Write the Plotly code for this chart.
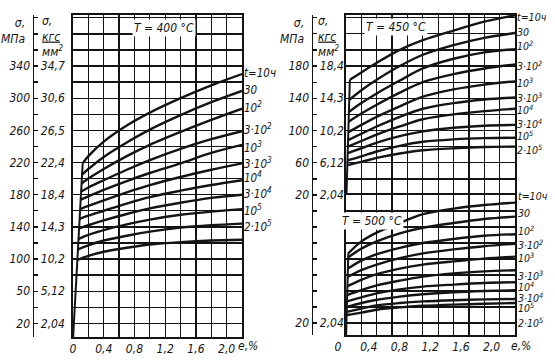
import plotly.graph_objects as go

# ---------------- data ----------------
E_GRID = [0.2, 0.4, 0.7, 1.0, 1.4, 1.8, 2.2]          # strain e, %
TIME_LABELS = ["t=10ч", "30", "10<sup>2</sup>", "3·10<sup>2</sup>", "10<sup>3</sup>",
               "3·10<sup>3</sup>", "10<sup>4</sup>", "3·10<sup>4</sup>", "10<sup>5</sup>", "2·10<sup>5</sup>"]

# T = 400 C  (left panel) : knee point on elastic line + stress at E_GRID
T400_KNEE_E = [0.126, 0.118, 0.112, 0.106, 0.100, 0.093, 0.086, 0.079, 0.072, 0.064, 0.057]
T400_KNEE_S = [219, 205, 194, 184, 174, 162, 150, 138, 125, 112, 99]
T400_S = [
    [228, 246, 266, 282, 300, 316, 330],
    [212, 227, 245, 261, 279, 295, 309],
    [200, 212, 228, 242, 258, 273, 287],
    [189, 198, 211, 223, 237, 249, 259],
    [178, 186, 197, 207, 219, 232, 242],
    [166, 173, 183, 192, 202, 211, 219],
    [154, 160, 169, 177, 185, 192, 198],
    [142, 148, 156, 163, 170, 176, 180],
    [130, 136, 143, 149, 155, 159, 162],
    [117, 123, 129, 134, 139, 142, 144],
    [104, 109, 114, 118, 121, 123, 124],
]
T400_ELASTIC_E = [0, 0.126]
T400_ELASTIC_S = [0, 219]
T400_LABEL_S = [331, 310, 288, 261, 239, 219, 202, 181, 160, 140]

# T = 450 C  (right panel, upper block)
T450_KNEE_E = [0.050, 0.042, 0.038, 0.034, 0.030, 0.027, 0.025, 0.022, 0.019, 0.017]
T450_KNEE_S = [163, 138, 123, 111, 98, 88, 80, 72, 63, 57]
T450_S = [
    [172, 184, 200, 212, 224, 235, 243],
    [150, 163, 180, 194, 206, 215, 221],
    [134, 146, 162, 177, 189, 197, 201],
    [121, 132, 147, 160, 170, 177, 182],
    [107, 117, 130, 142, 151, 157, 161],
    [96, 105, 117, 127, 134, 138.5, 141],
    [87, 95, 105, 114, 120, 124, 127],
    [78, 85, 93, 99, 103.5, 106, 107],
    [68, 74, 81, 86, 89, 90.5, 91],
    [61, 66, 71.5, 75.5, 78, 79.5, 80],
]
T450_ELASTIC_E = [0, 0.050]
T450_ELASTIC_S = [0, 163]
T450_LABEL_S = [241, 222, 206, 181, 160, 141, 126, 109, 94, 77]

# T = 500 C  (right panel, lower block)
T500_KNEE_E = [0.030, 0.029, 0.025, 0.022, 0.019, 0.016, 0.013, 0.011, 0.010, 0.008]
T500_KNEE_S = [107, 102, 88, 77.5, 66, 55, 47, 40, 34, 30]
T500_S = [
    [122, 133, 145, 156, 163, 167.5, 170.5],
    [113, 122, 132, 139, 145, 150, 153],
    [98, 106, 114, 120, 125, 129, 131],
    [86, 93, 101, 107, 112, 116, 119],
    [74, 81, 88, 93, 97, 100.5, 103],
    [61, 67, 73, 78, 82, 84.5, 86],
    [52, 57, 62, 65.5, 68, 70, 71],
    [45, 49, 53, 56, 58.5, 60, 61],
    [38, 42, 45, 47, 48.5, 49.5, 50],
    [33, 36.5, 39.5, 41.5, 43, 44, 45],
]
T500_ELASTIC_E = [0, 0.030]
T500_ELASTIC_S = [0, 107]
T500_LABEL_S = [179, 157, 136, 118, 102, 79, 66, 52.5, 39, 21]

X_TICKS = [0, 0.4, 0.8, 1.2, 1.6, 2.0]
X_TICKTEXT = ["0", "0,4", "0,8", "1,2", "1,6", "2,0"]
LEFT_MPA_POS = [20, 60, 100, 140, 180, 220, 260, 300, 340]
LEFT_MPA_TEXT = ["20", "50", "100", "140", "180", "220", "260", "300", "340"]
LEFT_KGF_TEXT = ["2,04", "5,12", "10,2", "14,3", "18,4", "22,4", "26,5", "30,6", "34,7"]
RU_MPA_POS = [20, 60, 100, 140, 180]
RU_MPA_TEXT = ["20", "60", "100", "140", "180"]
RU_KGF_TEXT = ["2,04", "6,12", "10,2", "14,3", "18,4"]
RL_MPA_POS = [20]
RL_MPA_TEXT = ["20"]
RL_KGF_TEXT = ["2,04"]

# ---------------- figure ----------------
W, H = 555, 364
INK = "#141414"
FAMILY = "Liberation Sans Narrow, DejaVu Sans Condensed, Roboto Condensed, Liberation Sans, sans-serif"
FONT = dict(family=FAMILY, size=12, color=INK, style="italic")
LFONT = dict(family=FAMILY, size=11.5, color=INK, style="italic")
RFONT = dict(family=FAMILY, size=10.5, color=INK, style="italic")

fig = go.Figure()

def add_panel(xa, ya, knee_e, knee_s, sig, el_e, el_s):
    fig.add_trace(go.Scatter(x=el_e, y=el_s, mode="lines", xaxis=xa, yaxis=ya,
                             line=dict(color=INK, width=2), showlegend=False, hoverinfo="skip"))
    for ke, ks, s in zip(knee_e, knee_s, sig):
        fig.add_trace(go.Scatter(x=[ke] + E_GRID, y=[ks] + s, mode="lines", xaxis=xa, yaxis=ya,
                                 line=dict(color=INK, width=2.4, shape="spline", smoothing=0.9),
                                 showlegend=False, hoverinfo="skip"))

add_panel("x", "y", T400_KNEE_E, T400_KNEE_S, T400_S, T400_ELASTIC_E, T400_ELASTIC_S)
add_panel("x3", "y3", T450_KNEE_E, T450_KNEE_S, T450_S, T450_ELASTIC_E, T450_ELASTIC_S)
add_panel("x2", "y2", T500_KNEE_E, T500_KNEE_S, T500_S, T500_ELASTIC_E, T500_ELASTIC_S)

# dummy traces so overlay label axes render
for xa, ya in [("x", "y4"), ("x", "y5"), ("x3", "y6"), ("x3", "y7"), ("x2", "y8"), ("x2", "y9")]:
    fig.add_trace(go.Scatter(x=[None], y=[None], xaxis=xa, yaxis=ya, showlegend=False, hoverinfo="skip"))

px_x = lambda p: p / W
px_y = lambda p: 1 - p / H

grid_x = [round(0.2 * i, 1) for i in range(12)]

def xax(domain, anchor, show_labels, shift=0, side="bottom", mirror=True):
    d = dict(domain=domain, anchor=anchor, range=[0, 2.2], showgrid=True, gridcolor=INK, gridwidth=1.3,
             zeroline=False, showline=True, mirror=mirror, side=side, linecolor=INK, linewidth=1.6, ticks="",
             tickvals=grid_x, fixedrange=True, automargin=False,
             ticktext=[(X_TICKTEXT[X_TICKS.index(v)] if (v in X_TICKS and show_labels) else " ") for v in grid_x],
             tickfont=FONT, showticklabels=show_labels)
    if shift:
        d["ticklabelshift"] = shift
    return d

def yax(domain, anchor, rng, grid_vals):
    return dict(domain=domain, anchor=anchor, range=rng, showgrid=True, gridcolor=INK, gridwidth=1.3,
                zeroline=False, showline=True, mirror=True, linecolor=INK, linewidth=1.6, ticks="",
                tickvals=grid_vals, showticklabels=False, fixedrange=True, automargin=False)

def kgf_ax(over, rng, pos, tick_vals, label_pos, label_text):
    txt = [label_text[label_pos.index(v)] if v in label_pos else " " for v in tick_vals]
    return dict(overlaying=over, anchor="free", position=pos, side="right", range=rng, showgrid=False,
                zeroline=False, showline=True, linecolor=INK, linewidth=1.4, ticks="outside", ticklen=4,
                tickwidth=1.3, tickcolor=INK, tickvals=tick_vals, ticktext=txt, tickfont=FONT,
                fixedrange=True, automargin=False)

def mpa_ax(over, rng, pos, label_pos, label_text):
    return dict(overlaying=over, anchor="free", position=pos, side="left", range=rng, showgrid=False,
                zeroline=False, showline=False, ticks="", tickvals=label_pos, ticktext=label_text,
                tickfont=FONT, fixedrange=True, automargin=False)

L_RANGE = [3, 403.5]
RU_RANGE = [20, 243.3]
RL_RANGE = [5, 180]

fig.update_layout(
    width=W, height=H, margin=dict(l=0, r=0, t=0, b=0, autoexpand=False),
    paper_bgcolor="white", plot_bgcolor="white", showlegend=False,
    xaxis=xax([px_x(73), px_x(242)], "y", True),
    yaxis=yax([px_y(337), px_y(15)], "x", L_RANGE, list(range(20, 401, 20))),
    xaxis2=xax([px_x(346), px_x(515)], "y2", True, -8, "bottom", True),
    yaxis2=yax([px_y(335), px_y(195)], "x2", RL_RANGE, list(range(20, 181, 20))),
    xaxis3=xax([px_x(346), px_x(515)], "y3", False, 0, "top", False),
    yaxis3=yax([px_y(195), px_y(15)], "x3", RU_RANGE, list(range(20, 241, 20))),
    yaxis4=kgf_ax("y", L_RANGE, px_x(33), list(range(20, 401, 20)), LEFT_MPA_POS, LEFT_KGF_TEXT),
    yaxis5=mpa_ax("y", L_RANGE, px_x(30), LEFT_MPA_POS, LEFT_MPA_TEXT),
    yaxis6=kgf_ax("y3", RU_RANGE, px_x(312), list(range(20, 241, 20)), RU_MPA_POS, RU_KGF_TEXT),
    yaxis7=mpa_ax("y3", RU_RANGE, px_x(309), RU_MPA_POS, RU_MPA_TEXT),
    yaxis8=kgf_ax("y2", RL_RANGE, px_x(312), list(range(20, 181, 20)), RL_MPA_POS, RL_KGF_TEXT),
    yaxis9=mpa_ax("y2", RL_RANGE, px_x(309), RL_MPA_POS, RL_MPA_TEXT),
)

ann = []
def lab(text, x, y, xref, yref, xanchor="left", font=FONT, **kw):
    ann.append(dict(text=text, x=x, y=y, xref=xref, yref=yref, xanchor=xanchor, yanchor="middle",
                    showarrow=False, font=font, **kw))

for t, s in zip(TIME_LABELS, T400_LABEL_S):
    lab(t, 2.2, s, "x", "y", font=LFONT, xshift=0)
for t, s in zip(TIME_LABELS, T450_LABEL_S):
    lab(t, 2.2, s, "x3", "y3", font=RFONT, xshift=0)
for t, s in zip(TIME_LABELS, T500_LABEL_S):
    lab(t, 2.2, s, "x2", "y2", font=RFONT, xshift=1)

box = dict(bgcolor="white", borderpad=1)
lab("T = 400 °C", 1.18, 387, "x", "y", xanchor="center", **box)
lab("T = 450 °C", 0.65, 228, "x3", "y3", xanchor="center", **box)
lab("T = 500 °C", 0.34, 147, "x2", "y2", xanchor="center", **box)

# axis unit titles and "e,%"
def ptxt(text, xp, yp, xanchor="left", align="left"):
    ann.append(dict(text=text, x=px_x(xp), y=px_y(yp), xref="paper", yref="paper", xanchor=xanchor,
                    yanchor="middle", align=align, showarrow=False, font=FONT))

ptxt("σ,<br>МПа", 27, 31, "right", "right")
ptxt("σ,<br><u>кгс</u><br>мм<sup>2</sup>", 40, 37)
ptxt("σ,<br>МПа", 306, 31, "right", "right")
ptxt("σ,<br><u>кгс</u><br>мм<sup>2</sup>", 316, 37)
ptxt("e,%", 236, 346)
ptxt("e,%", 509, 346)

fig.update_layout(annotations=ann)
fig.write_html("out.html", config={"displayModeBar": False, "staticPlot": True},
               post_script="document.body.style.margin='0';document.body.style.overflow='hidden';")
